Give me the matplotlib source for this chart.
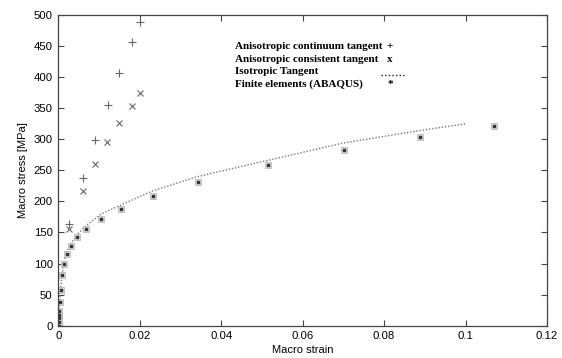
import matplotlib
matplotlib.use("Agg")
import matplotlib.pyplot as plt
from matplotlib.lines import Line2D

# Anisotropic continuum tangent (+)
cont_x = [0.0027, 0.0060, 0.0090, 0.0121, 0.0149, 0.0180, 0.0200]
cont_y = [163, 237, 299, 355, 406, 456, 488]

# Anisotropic consistent tangent (x)
cons_x = [0.0027, 0.0060, 0.0090, 0.0120, 0.0149, 0.0180, 0.0200]
cons_y = [155, 216, 260, 296, 327, 354, 374]

# Isotropic tangent (dotted)
iso_x = [0.0, 0.0002, 0.0005, 0.0009, 0.0013, 0.0020, 0.0030, 0.0047, 0.0068,
         0.0106, 0.0153, 0.0232, 0.0342, 0.0514, 0.0700, 0.0887, 0.1000]
iso_y = [0, 25, 52, 80, 100, 117, 131, 147, 161, 180, 194, 217, 240, 266, 294, 314, 325]

# Finite elements (ABAQUS)
fe_x = [0.0001, 0.0001, 0.0001, 0.0002, 0.0002, 0.0004, 0.0006, 0.0009, 0.0013, 0.0021,
        0.0031, 0.0047, 0.0068, 0.0106, 0.0153, 0.0232, 0.0342, 0.0514, 0.0702,
        0.0887, 0.1069]
fe_y = [0, 6, 12, 18, 24, 38, 57, 81, 99, 115, 129, 143, 156, 171, 188, 208, 231,
        258, 283, 303, 321]

legend_labels = ["Anisotropic continuum tangent", "Anisotropic consistent tangent",
                 "Isotropic Tangent", "Finite elements (ABAQUS)"]
legend_symbols = ["+", "x", None, "*"]

xticks = [0, 0.02, 0.04, 0.06, 0.08, 0.1, 0.12]
xticklabels = ["0", "0.02", "0.04", "0.06", "0.08", "0.1", "0.12"]
yticks = [0, 50, 100, 150, 200, 250, 300, 350, 400, 450, 500]

plt.rcParams['font.family'] = ['Liberation Sans', 'DejaVu Sans']

W, H = 562, 358
fig = plt.figure(figsize=(5.62, 3.58), dpi=100)
ax = fig.add_axes([0.1037, 0.0902, 0.8696, 0.8679])

ax.plot(iso_x, iso_y, linestyle=(0, (1, 1.3)), color='#777777', linewidth=1.0)
ax.plot(fe_x, fe_y, linestyle='none', marker='s', markersize=4.2,
        markerfacecolor='#d4d4d4', markeredgecolor='#b0b0b0', markeredgewidth=0.5)
ax.plot(fe_x, fe_y, linestyle='none', marker='s', markersize=1.8,
        markerfacecolor='#333333', markeredgecolor='#333333')
ax.plot(cont_x, cont_y, linestyle='none', marker='+', markersize=6,
        color='#666666', markeredgewidth=0.8)
ax.plot(cons_x, cons_y, linestyle='none', marker='x', markersize=5,
        color='#666666', markeredgewidth=0.8)

ax.set_xlim(0, 0.12)
ax.set_ylim(0, 500)
ax.set_xticks(xticks)
ax.set_xticklabels(xticklabels)
ax.set_yticks(yticks)
ax.tick_params(direction='in', length=4, width=0.8, color='#444444',
               labelsize=8.2, top=True, right=True, pad=4)
for s in ax.spines.values():
    s.set_color('#444444')
    s.set_linewidth(0.9)

ax.set_xlabel("Macro strain", fontsize=8, labelpad=3)
ax.set_ylabel("Macro stress [MPa]", fontsize=8, labelpad=4)

ys = [46.7, 59.3, 71.7, 84.3]
for lab, sym, yp in zip(legend_labels, legend_symbols, ys):
    fig.text(235 / W, 1 - yp / H, lab, fontsize=8, fontweight='bold',
             family='Liberation Serif', va='center', ha='left')
    if sym is None:
        fig.add_artist(Line2D([381 / W, 405 / W], [1 - (yp + 3) / H] * 2,
                              transform=fig.transFigure, color='#222222',
                              linestyle=(0, (1, 1.6)), linewidth=1.0))
    else:
        fig.text(390 / W, 1 - yp / H, sym, fontsize=8, fontweight='bold',
                 family='Liberation Serif', va='center', ha='center')

fig.savefig("out.png", dpi=100)
